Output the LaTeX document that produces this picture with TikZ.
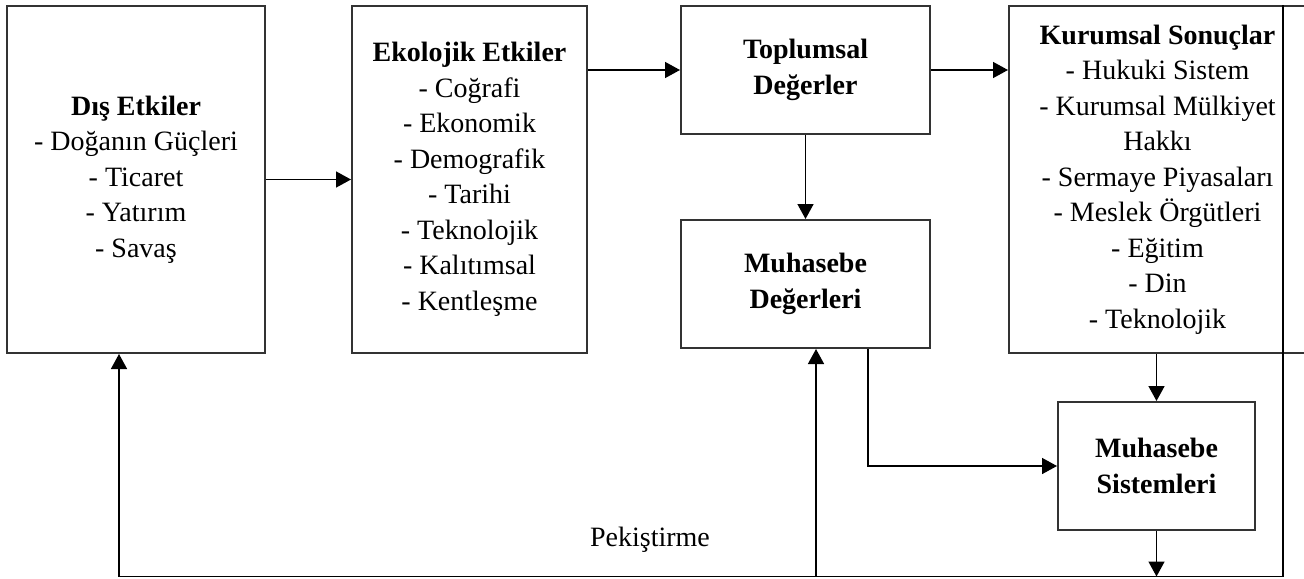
\documentclass[tikz,border=0pt]{standalone}
\usepackage{fontspec}
\setmainfont{Liberation Serif}
\usetikzlibrary{arrows.meta}
\begin{document}
\begin{tikzpicture}[x=0.5pt,y=-0.5pt,
  txt/.style={font=\fontsize{14}{17.75}\selectfont},
  box/.style={txt, draw=black!80, line width=1pt, align=center, inner sep=0pt},
  conn/.style={line width=0.75pt},
  arr/.style={conn,-{Triangle[length=7.5pt,width=8pt]}}]
\useasboundingbox (0,0) rectangle (1304,578);
\node[box, minimum width=129pt, minimum height=173.5pt] (ext) at (136,179.5)
  {\textbf{Dış Etkiler}\\- Doğanın Güçleri\\- Ticaret\\- Yatırım\\- Savaş};
\node[box, minimum width=117.5pt, minimum height=173.5pt] (eco) at (469.5,179.5)
  {\textbf{Ekolojik Etkiler}\\- Coğrafi\\- Ekonomik\\- Demografik\\- Tarihi\\- Teknolojik\\- Kalıtımsal\\- Kentleşme};
\node[box, minimum width=124.5pt, minimum height=64pt] (top) at (805.5,70)
  {\textbf{Toplumsal}\\\textbf{Değerler}};
\node[box, minimum width=124.5pt, minimum height=64pt] (mdeg) at (805.5,284)
  {\textbf{Muhasebe}\\\textbf{Değerleri}};
\node[box, minimum width=148.5pt, minimum height=173.5pt] (kur) at (1157.5,179.5)
  {\textbf{Kurumsal Sonuçlar}\\- Hukuki Sistem\\- Kurumsal Mülkiyet\\Hakkı\\- Sermaye Piyasaları\\- Meslek Örgütleri\\- Eğitim\\- Din\\- Teknolojik};
\node[box, minimum width=98.5pt, minimum height=64pt] (msis) at (1156.5,466)
  {\textbf{Muhasebe}\\\textbf{Sistemleri}};
\node[txt] (pek) at (650,540) {Pekiştirme};
\coordinate (fbB) at (1283,576.5);
\coordinate (fbL) at (119,576.5);
\coordinate (mv) at (816,576.5);
\coordinate (dv) at (868,348);
\draw[arr] (ext.east) -- (eco.west);
\draw[arr] (eco.east |- top.west) -- (top.west);
\draw[arr] (top.east) -- (top.east -| kur.west);
\draw[arr] (top.south) -- (mdeg.north);
\draw[arr] (msis.north |- kur.south) -- (msis.north);
\draw[arr] (mdeg.south -| dv) |- (msis.west);
\draw[arr] (msis.south) -- (msis.south |- fbB);
\draw[conn] (kur.north -| fbB) -- (fbB) -- (fbL);
\draw[arr] (fbL) -- (ext.south -| fbL);
\draw[arr] (mv) -- (mdeg.south -| mv);
\end{tikzpicture}
\end{document}
